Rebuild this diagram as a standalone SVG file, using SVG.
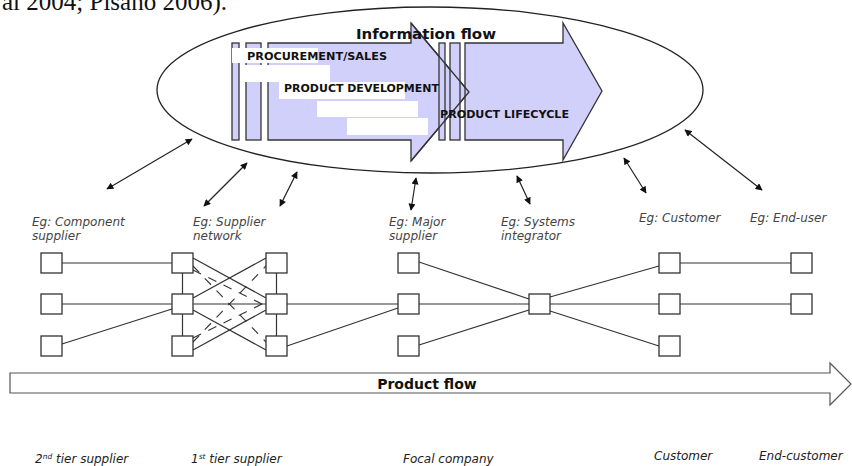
<svg xmlns="http://www.w3.org/2000/svg" width="852" height="466" viewBox="0 0 852 466">
<defs>
<style>
.node rect{fill:#fff;stroke:#333;stroke-width:1.3}
.ln{stroke:#333;stroke-width:1.2;fill:none}
.dash{stroke:#333;stroke-width:1.1;fill:none;stroke-dasharray:9 8}
.conn line{stroke:#222;stroke-width:1.2;marker-start:url(#ah);marker-end:url(#ah)}
.lav{fill:#d0d0fa;stroke:#333;stroke-width:1.3}
.wbox{fill:#fff}
.cap{font-family:"DejaVu Sans",Verdana,sans-serif;font-weight:bold;font-size:11px;fill:#111}
.lbl{font-family:"DejaVu Sans",Verdana,sans-serif;font-style:italic;font-size:12px;fill:#444}
.bot{font-family:"DejaVu Sans",Verdana,sans-serif;font-style:italic;fill:#222}
</style>
<marker id="ah" viewBox="0 0 10 10" refX="9" refY="5" markerWidth="8" markerHeight="7" markerUnits="userSpaceOnUse" orient="auto-start-reverse">
<path d="M0,0 L10,5 L0,10 z" fill="#111"/>
</marker>
</defs>
<rect width="852" height="466" fill="#fff"/>
<text x="2" y="10" font-family="'Liberation Serif',serif" font-size="25" fill="#111">al 2004; Pisano 2006).</text>

<g id="information-flow">
<ellipse cx="430" cy="90" rx="273" ry="83" fill="#fff" stroke="#222" stroke-width="1.3"/>
<g id="arrow-procurement">
<rect class="lav" x="232" y="43" width="7" height="97"/>
<rect class="lav" x="246" y="43" width="15" height="97"/>
<polygon class="lav" points="268,43 411,43 411,23 469,92 411,161 411,140 268,140"/>
<rect class="wbox" x="232" y="48" width="86" height="15"/>
<rect class="wbox" x="245" y="65" width="85" height="17"/>
<rect class="wbox" x="279" y="82" width="126" height="17"/>
<rect class="wbox" x="317" y="101" width="101" height="16"/>
<rect class="wbox" x="347" y="118" width="81" height="17"/>
</g>
<g id="arrow-lifecycle">
<rect class="lav" x="439" y="43" width="6" height="97"/>
<rect class="lav" x="450" y="43" width="10" height="97"/>
<polygon class="lav" points="465,43 563,43 563,23 602,91 563,160 563,140 465,140"/>
</g>
<polyline points="411,23 469,92 411,161" fill="none" stroke="#333" stroke-width="1.3"/>
<text class="cap" x="247" y="60" textLength="140" lengthAdjust="spacingAndGlyphs">PROCUREMENT/SALES</text>
<text class="cap" x="284" y="92" textLength="155" lengthAdjust="spacingAndGlyphs">PRODUCT DEVELOPMENT</text>
<text class="cap" x="440" y="118" textLength="129" lengthAdjust="spacingAndGlyphs">PRODUCT LIFECYCLE</text>
<text x="356" y="39" font-family="'DejaVu Sans',Verdana,sans-serif" font-weight="bold" font-size="14.5" fill="#111" textLength="140" lengthAdjust="spacingAndGlyphs">Information flow</text>
</g>

<g id="product-flow">
<polygon points="10,373 830,373 830,363 851,384 830,405 830,393 10,393" fill="#fff" stroke="#555" stroke-width="1.2"/>
<text x="427" y="389" text-anchor="middle" font-family="'DejaVu Sans',Verdana,sans-serif" font-weight="bold" font-size="14" fill="#111">Product flow</text>
</g>

<g id="connectors">
<g class="conn">
<line x1="192" y1="139" x2="107" y2="189"/>
<line x1="247" y1="163" x2="204" y2="206"/>
<line x1="297" y1="172" x2="280" y2="206"/>
<line x1="416" y1="178" x2="411" y2="210"/>
<line x1="517" y1="176" x2="530" y2="204"/>
<line x1="624" y1="158" x2="646" y2="193"/>
<line x1="685" y1="130" x2="762" y2="190"/>
</g>
<g id="network-lines">
<line class="ln" x1="62" y1="263" x2="172" y2="263"/>
<line class="ln" x1="62" y1="304" x2="172" y2="304"/>
<line class="ln" x1="62" y1="344" x2="172" y2="309"/>
<line class="ln" x1="182.5" y1="273" x2="182.5" y2="294"/>
<line class="ln" x1="182.5" y1="314" x2="182.5" y2="336"/>
<line class="ln" x1="276.5" y1="273" x2="276.5" y2="294"/>
<line class="ln" x1="276.5" y1="314" x2="276.5" y2="336"/>
<line class="ln" x1="193" y1="304" x2="266" y2="304"/>
<line class="ln" x1="193" y1="258" x2="266" y2="298"/>
<line class="ln" x1="193" y1="298" x2="266" y2="258"/>
<line class="ln" x1="193" y1="310" x2="266" y2="350"/>
<line class="ln" x1="193" y1="350" x2="266" y2="310"/>
<line class="dash" x1="193" y1="266" x2="266" y2="342"/>
<line class="dash" x1="193" y1="342" x2="266" y2="266"/>
<line class="dash" x1="193" y1="270" x2="266" y2="306"/>
<line class="dash" x1="193" y1="338" x2="266" y2="302"/>
<line class="ln" x1="287" y1="304" x2="398" y2="304"/>
<line class="ln" x1="287" y1="346" x2="398" y2="308"/>
<line class="ln" x1="419" y1="262" x2="529" y2="299"/>
<line class="ln" x1="419" y1="304" x2="529" y2="304"/>
<line class="ln" x1="419" y1="345" x2="529" y2="310"/>
<line class="ln" x1="550" y1="297" x2="659" y2="266"/>
<line class="ln" x1="550" y1="304" x2="659" y2="304"/>
<line class="ln" x1="550" y1="311" x2="659" y2="346"/>
<line class="ln" x1="680" y1="263" x2="791" y2="263"/>
<line class="ln" x1="680" y1="304" x2="791" y2="304"/>
</g>
</g>

<g id="n-c1r1" class="node"><rect x="41" y="253" width="21" height="20"/></g>
<g id="n-c1r2" class="node"><rect x="41" y="294" width="21" height="20"/></g>
<g id="n-c1r3" class="node"><rect x="41" y="336" width="21" height="20"/></g>
<g id="n-c2r1" class="node"><rect x="172" y="253" width="21" height="20"/></g>
<g id="n-c2r2" class="node"><rect x="172" y="294" width="21" height="20"/></g>
<g id="n-c2r3" class="node"><rect x="172" y="336" width="21" height="20"/></g>
<g id="n-c3r1" class="node"><rect x="266" y="253" width="21" height="20"/></g>
<g id="n-c3r2" class="node"><rect x="266" y="294" width="21" height="20"/></g>
<g id="n-c3r3" class="node"><rect x="266" y="336" width="21" height="20"/></g>
<g id="n-c4r1" class="node"><rect x="398" y="253" width="21" height="20"/></g>
<g id="n-c4r2" class="node"><rect x="398" y="294" width="21" height="20"/></g>
<g id="n-c4r3" class="node"><rect x="398" y="336" width="21" height="20"/></g>
<g id="n-c5r2" class="node"><rect x="529" y="294" width="21" height="20"/></g>
<g id="n-c6r1" class="node"><rect x="659" y="253" width="21" height="20"/></g>
<g id="n-c6r2" class="node"><rect x="659" y="294" width="21" height="20"/></g>
<g id="n-c6r3" class="node"><rect x="659" y="336" width="21" height="20"/></g>
<g id="n-c7r1" class="node"><rect x="791" y="253" width="21" height="20"/></g>
<g id="n-c7r2" class="node"><rect x="791" y="294" width="21" height="20"/></g>

<g id="labels">
<text class="lbl" x="32" y="226">Eg: Component</text>
<text class="lbl" x="32" y="240">supplier</text>
<text class="lbl" x="193" y="226">Eg: Supplier</text>
<text class="lbl" x="193" y="240">network</text>
<text class="lbl" x="389" y="226">Eg: Major</text>
<text class="lbl" x="389" y="240">supplier</text>
<text class="lbl" x="501" y="226">Eg: Systems</text>
<text class="lbl" x="501" y="240">integrator</text>
<text class="lbl" x="639" y="222">Eg: Customer</text>
<text class="lbl" x="750" y="222">Eg: End-user</text>
</g>

<g id="tiers">
<text class="bot" x="35" y="463" style="font-size:12px">2<tspan style="font-size:7.5px" dy="-4">nd</tspan><tspan dy="4"> tier supplier</tspan></text>
<text class="bot" x="191" y="463" style="font-size:12px">1<tspan style="font-size:7.5px" dy="-4">st</tspan><tspan dy="4"> tier supplier</tspan></text>
<text class="bot" x="403" y="463" style="font-size:12px">Focal company</text>
<text class="bot" x="654" y="460" style="font-size:12px">Customer</text>
<text class="bot" x="759" y="460" style="font-size:12px">End-customer</text>
</g>
</svg>
